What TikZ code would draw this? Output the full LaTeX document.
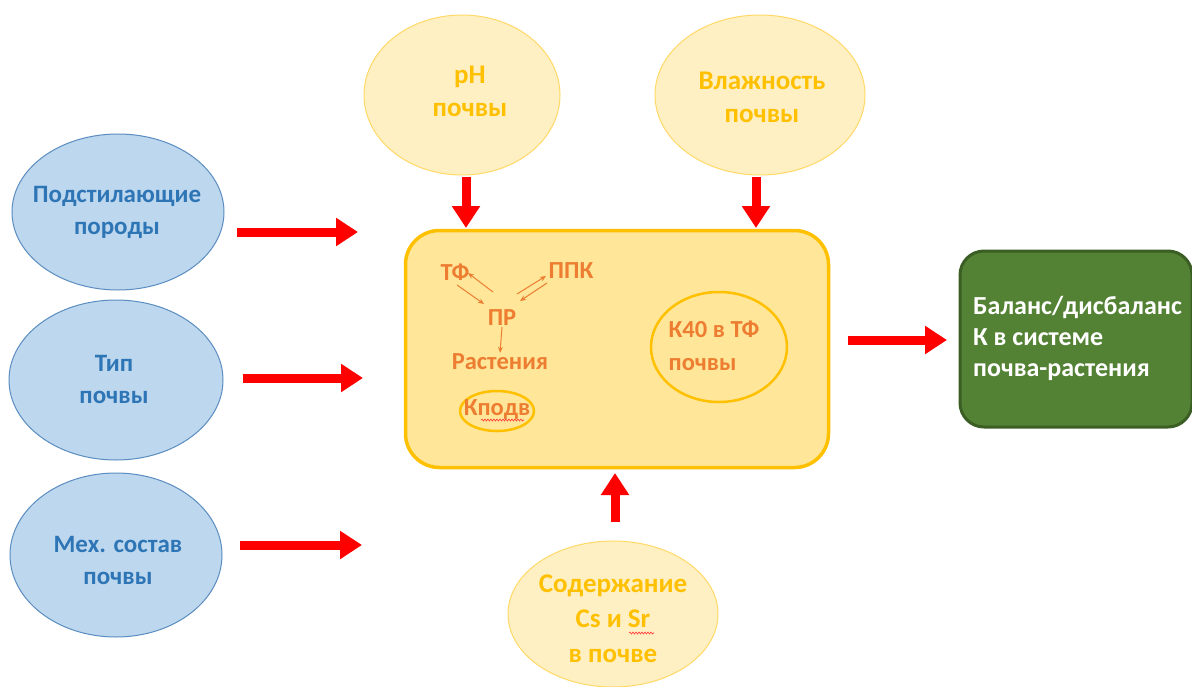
\documentclass[tikz,border=0pt]{standalone}
\usepackage{fontspec}
\setmainfont{Carlito}
\usetikzlibrary{shapes.geometric,arrows.meta,decorations.pathmorphing}
\definecolor{blueFill}{HTML}{BDD7EE}
\definecolor{blueLine}{HTML}{5B8DC0}
\definecolor{blueText}{HTML}{2E75B6}
\definecolor{yelFill}{HTML}{FFF0C4}
\definecolor{yelLine}{HTML}{FFD966}
\definecolor{yelText}{HTML}{FFC000}
\definecolor{boxFill}{HTML}{FFE699}
\definecolor{boxLine}{HTML}{FFC000}
\definecolor{orText}{HTML}{ED7D31}
\definecolor{grFill}{HTML}{548235}
\definecolor{grLine}{HTML}{3B5E24}
\definecolor{bigRed}{HTML}{FF0000}
\tikzset{
  blueell/.style={ellipse, draw=blueLine, fill=blueFill, line width=1pt, inner sep=0pt},
  yelell/.style={ellipse, draw=yelLine, fill=yelFill, line width=1pt, inner sep=0pt},
  bluetxt/.style={text=blueText, font=\fontsize{25}{32}\selectfont\bfseries, align=center, inner sep=0pt},
  yeltxt/.style={text=yelText, font=\fontsize{27}{33}\selectfont\bfseries, align=center, inner sep=0pt},
  ortxt/.style={text=orText, font=\fontsize{24.5}{32}\selectfont\bfseries, inner sep=1pt},
  bigarrow/.style={draw=bigRed, line width=9pt, -{Triangle[length=22pt,width=27pt]}},
  smallarrow/.style={draw=orText, line width=1pt, -{Stealth[length=6pt,width=5pt]}},
  squiggle/.style={draw=red!80, line width=0.6pt, decorate, decoration={snake, amplitude=1pt, segment length=3pt}}
}
\begin{document}
\begin{tikzpicture}[x=1pt,y=-1pt]
\useasboundingbox[fill=white] (0,0) rectangle (1192,686);

% left ellipses
\node[blueell, minimum width=212pt, minimum height=156pt] (e1) at (118,212) {};
\node[bluetxt] (t1) at (117,212) {Подстилающие\\породы};
\node[blueell, minimum width=214pt, minimum height=160pt] (e2) at (116,380) {};
\node[bluetxt] (t2) at (114,379) {Тип\\почвы};
\node[blueell, minimum width=212pt, minimum height=164pt] (e3) at (116,555) {};
\node[bluetxt] (t3) at (118,560) {Мех. состав\\почвы};

% top ellipses
\node[yelell, minimum width=196pt, minimum height=160pt] (ph) at (462,95) {};
\node[yeltxt] (tph) at (470,91) {pH\\почвы};
\node[yelell, minimum width=210pt, minimum height=160pt] (vl) at (760,95) {};
\node[yeltxt] (tvl) at (762,97) {Влажность\\почвы};

% bottom ellipse
\node[yelell, minimum width=210pt, minimum height=146pt] (cs) at (613,614) {};
\node[yeltxt, font=\fontsize{27}{35}\selectfont\bfseries] (tcs) at (613,619) {Содержание\\Cs и Sr\\в почве};
\coordinate (sqA) at (629,633);
\coordinate (sqB) at (654,633);
\draw[squiggle] (sqA) -- (sqB);

% main box
\node[draw=boxLine, fill=boxFill, line width=3.5pt, rounded corners=34pt,
      minimum width=423pt, minimum height=237pt, inner sep=0pt] (main) at (617,349) {};

% inner content
\node[ortxt] (tf) at (455,272) {ТФ};
\node[ortxt] (ppk) at (571,271) {ППК};
\node[ortxt] (pr) at (502,318) {ПР};
\node[ortxt] (rast) at (500,362) {Растения};
\node[ellipse, draw=boxLine, line width=2.5pt, minimum width=74pt, minimum height=40pt, inner sep=0pt] (kpe) at (497,411) {};
\node[ortxt] (kp) at (497,410) {Кподв};
\coordinate (sqC) at (481,420);
\coordinate (sqD) at (524,420);
\draw[squiggle] (sqC) -- (sqD);
\node[ellipse, draw=boxLine, line width=2.5pt, minimum width=136pt, minimum height=110pt, inner sep=0pt] (k40e) at (719,347) {};
\node[ortxt, align=left, font=\fontsize{24.5}{33}\selectfont\bfseries] (k40) at (714,346) {К40 в ТФ\\почвы};

\coordinate (a1s) at (493,292); \coordinate (a1e) at (468,273);
\coordinate (a2s) at (457,285); \coordinate (a2e) at (484,304);
\coordinate (a3s) at (517,294); \coordinate (a3e) at (546,276);
\coordinate (a4s) at (547,283); \coordinate (a4e) at (520,301);
\draw[smallarrow] (a1s) -- (a1e);
\draw[smallarrow] (a2s) -- (a2e);
\draw[smallarrow] (a3s) -- (a3e);
\draw[smallarrow] (a4s) -- (a4e);
\draw[smallarrow] (pr.south) -- (rast.north);

% green box
\node[draw=grLine, fill=grFill, line width=3pt, rounded corners=24pt,
      minimum width=232pt, minimum height=176pt, inner sep=0pt] (res) at (1076,339) {};
\node[text=white, font=\fontsize{26}{31}\selectfont\bfseries, align=left, inner sep=0pt, anchor=west] (rest) at (973,338) {Баланс/дисбаланс\\К в системе\\почва-растения};

% big arrows
\coordinate (l1s) at (237,232); \coordinate (l1e) at (358,232);
\coordinate (l2s) at (243,378); \coordinate (l2e) at (363,378);
\coordinate (l3s) at (240,545); \coordinate (l3e) at (362,545);
\draw[bigarrow] (l1s) -- (l1e);
\draw[bigarrow] (l2s) -- (l2e);
\draw[bigarrow] (l3s) -- (l3e);
\coordinate (d1s) at (466,177); \coordinate (d1e) at (466,228);
\coordinate (d2s) at (756,177); \coordinate (d2e) at (756,228);
\draw[bigarrow] (d1s) -- (d1e);
\draw[bigarrow] (d2s) -- (d2e);
\coordinate (us) at (615,522); \coordinate (ue) at (615,473);
\draw[bigarrow] (us) -- (ue);
\coordinate (rs) at (848,340); \coordinate (re) at (947,340);
\draw[bigarrow] (rs) -- (re);
\end{tikzpicture}
\end{document}
